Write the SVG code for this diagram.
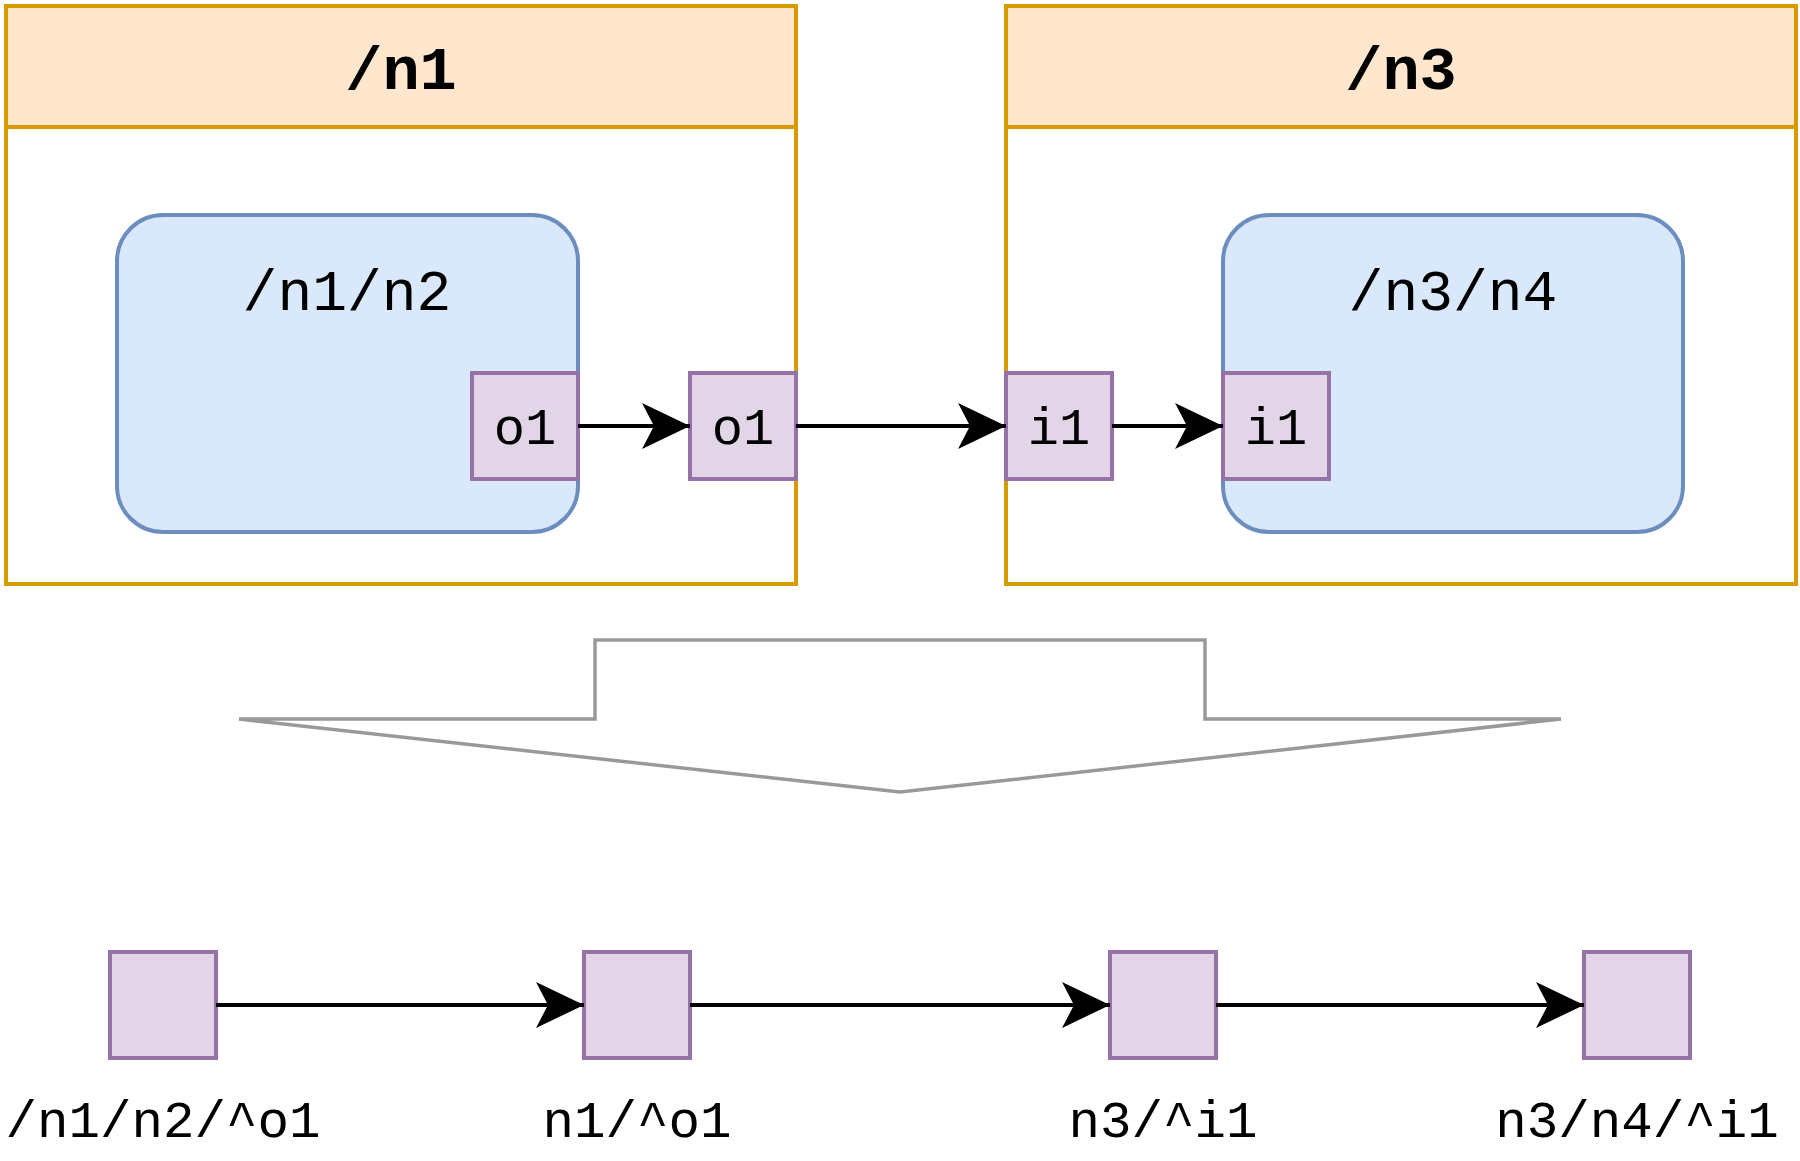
<svg xmlns="http://www.w3.org/2000/svg" width="1800" height="1161" viewBox="0 0 1800 1161">
<style>
.container{fill:#ffffff;stroke:#d79b00;stroke-width:4}
.header{fill:#ffe6cc;stroke:#d79b00;stroke-width:4}
.inner{fill:#dae8fc;stroke:#6c8ebf;stroke-width:4}
.port{fill:#e1d5e7;stroke:#9673a6;stroke-width:4}
.edge{fill:none;stroke:#000000;stroke-width:4;marker-end:url(#arrow)}
.t{font-family:"Liberation Mono","DejaVu Sans Mono",monospace;fill:#000000;text-anchor:middle}
.title{font-size:62px;font-weight:bold}
.lbl{font-size:58px}
.plbl{font-size:52px}
.blbl{font-size:52.5px}
</style>
<defs>
<marker id="arrow" markerUnits="userSpaceOnUse" markerWidth="48" markerHeight="46" refX="48" refY="23" orient="auto">
<path d="M48,23 L0,0 L12,23 L0,46 Z" fill="#000000"/>
</marker>
</defs>
<rect width="1800" height="1161" fill="#ffffff"/>
<g id="n1">
<rect class="container" x="6" y="6" width="790" height="578"/>
<rect class="header" x="6" y="6" width="790" height="121"/>
<text class="t title" x="401" y="89">/n1</text>
</g>
<g id="n3">
<rect class="container" x="1006" y="6" width="790" height="578"/>
<rect class="header" x="1006" y="6" width="790" height="121"/>
<text class="t title" x="1401" y="89">/n3</text>
</g>
<g id="n1-n2">
<rect class="inner" x="117" y="215" width="461" height="317" rx="46" ry="46"/>
<text class="t lbl" x="347" y="310">/n1/n2</text>
</g>
<g id="n3-n4">
<rect class="inner" x="1223" y="215" width="460" height="317" rx="46" ry="46"/>
<text class="t lbl" x="1453" y="310">/n3/n4</text>
</g>
<g id="n1-n2-o1">
<rect class="port" x="472" y="373" width="106" height="106"/>
<text class="t plbl" x="525" y="444">o1</text>
</g>
<g id="n1-o1">
<rect class="port" x="690" y="373" width="106" height="106"/>
<text class="t plbl" x="743" y="444">o1</text>
</g>
<g id="n3-i1">
<rect class="port" x="1006" y="373" width="106" height="106"/>
<text class="t plbl" x="1059" y="444">i1</text>
</g>
<g id="n3-n4-i1">
<rect class="port" x="1223" y="373" width="106" height="106"/>
<text class="t plbl" x="1276" y="444">i1</text>
</g>
<g id="transform-arrow">
<polygon points="595,640 1205,640 1205,719 1561,719 900,792 239,719 595,719" fill="#ffffff" stroke="#999999" stroke-width="3.5"/>
</g>
<g id="p1">
<rect class="port" x="110" y="952" width="106" height="106"/>
<text class="t blbl" x="163" y="1137">/n1/n2/^o1</text>
</g>
<g id="p2">
<rect class="port" x="584" y="952" width="106" height="106"/>
<text class="t blbl" x="637" y="1137">n1/^o1</text>
</g>
<g id="p3">
<rect class="port" x="1110" y="952" width="106" height="106"/>
<text class="t blbl" x="1163" y="1137">n3/^i1</text>
</g>
<g id="p4">
<rect class="port" x="1584" y="952" width="106" height="106"/>
<text class="t blbl" x="1637" y="1137">n3/n4/^i1</text>
</g>
<g id="connectors">
<path class="edge" d="M578,426 L690,426"/>
<path class="edge" d="M796,426 L1006,426"/>
<path class="edge" d="M1112,426 L1223,426"/>
<path class="edge" d="M216,1005 L584,1005"/>
<path class="edge" d="M690,1005 L1110,1005"/>
<path class="edge" d="M1216,1005 L1584,1005"/>
</g>
</svg>
